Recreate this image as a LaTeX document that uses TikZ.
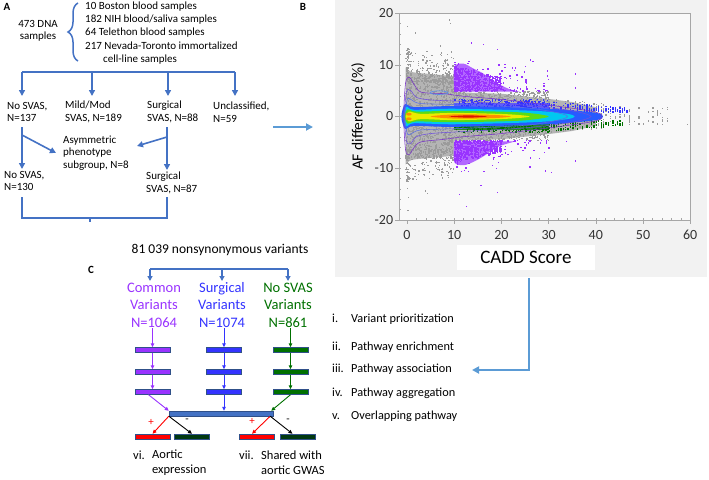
\documentclass[tikz,border=0pt]{standalone}
\usepackage{fontspec}
\setmainfont{Carlito}
\usetikzlibrary{arrows.meta,positioning,decorations.pathreplacing}
\definecolor{treeblue}{RGB}{68,114,196}
\definecolor{linkblue}{RGB}{91,155,213}
\definecolor{cpurple}{RGB}{153,51,255}
\definecolor{cblue}{RGB}{51,51,255}
\definecolor{cgreen}{RGB}{0,112,0}
\definecolor{dkgreen}{RGB}{0,56,16}
\definecolor{panelgray}{RGB}{242,242,242}
\definecolor{ptgray}{RGB}{155,155,155}
\definecolor{cloudgray}{RGB}{180,180,180}
\definecolor{hblue}{RGB}{40,90,255}
\definecolor{hcyan}{RGB}{0,200,240}
\definecolor{hgreen}{RGB}{90,220,20}
\definecolor{hyellow}{RGB}{235,235,0}
\definecolor{horange}{RGB}{255,140,0}
\definecolor{hred}{RGB}{220,20,0}
\tikzstyle{plabel}=[inner sep=0pt,font=\fontsize{11}{13}\selectfont\bfseries]
\tikzstyle{lbl}=[inner sep=0pt,align=left,font=\fontsize{11}{12.5}\selectfont]
\tikzstyle{clbl}=[inner sep=0pt,align=center,font=\fontsize{14.5}{17.5}\selectfont]
\tikzstyle{item}=[inner sep=0pt,anchor=west,font=\fontsize{12.3}{14}\selectfont]
\tikzstyle{tree}=[-{Triangle[length=6pt,width=6pt]},line width=1.6pt,draw=treeblue]
\tikzstyle{link}=[-{Triangle[length=7pt,width=7pt]},line width=1.8pt,draw=linkblue]
\tikzstyle{varrow}=[-{Triangle[length=4pt,width=3.5pt]},line width=0.9pt]
\tikzstyle{bar}=[draw=treeblue!70!black,line width=0.4pt,inner sep=0pt,minimum height=5pt,minimum width=35pt]
\tikzstyle{contour}=[line width=0.55pt]
% random point cloud: count, x expr, y expr, colour
\newcommand{\cloud}[4]{\foreach \k in {1,...,#1}{%
  \pgfmathsetmacro{\px}{#2}\pgfmathsetmacro{\py}{#3}%
  \fill[#4] (\px,\py) rectangle ++(0.28,0.27);}}

\begin{document}
\begin{tikzpicture}[x=1pt,y=-1pt]
\useasboundingbox (0,0) rectangle (709,479);
\pgfmathsetseed{4711}

% ---------- panel A
\node[plabel] (pa) at (7,7) {A};
\node[lbl,align=center] (dna) at (38,31) {473 DNA\\samples};
\draw[treeblue,line width=1.5pt,decorate,decoration={brace,amplitude=10pt}] (78,61) -- (78,3);
\node[lbl,anchor=west,font=\fontsize{11}{13.4}\selectfont] (src) at (85,33)
  {10 Boston blood samples\\182 NIH blood/saliva samples\\64 Telethon blood samples\\
   217 Nevada-Toronto immortalized\\\hspace{18pt}cell-line samples};

\coordinate (hl) at (22,72);
\coordinate (hr) at (235,72);
\draw[treeblue,line width=1.6pt] (hl) -- (hr);
\foreach \x in {22,92,168,235}
  \draw[tree] (\x,72) -- (\x,96);

\node[lbl,anchor=west] (c1) at (7,112) {No SVAS,\\N=137};
\node[lbl,anchor=west] (c2) at (65,112) {Mild/Mod\\SVAS, N=189};
\node[lbl,anchor=west] (c3) at (147,112) {Surgical\\SVAS, N=88};
\node[lbl,anchor=west] (c4) at (213,112) {Unclassified,\\N=59};
\node[lbl,anchor=west] (asym) at (63,153) {Asymmetric\\phenotype\\subgroup, N=8};
\node[lbl,anchor=west] (c5) at (4,181) {No SVAS,\\N=130};
\node[lbl,anchor=west] (c6) at (146,183) {Surgical\\SVAS, N=87};

\coordinate (s1) at (22,127);
\coordinate (s2) at (167,127);
\draw[tree] (s1) -- (22,169);
\draw[tree] (22,135) -- ([xshift=-7pt]asym.west);
\draw[tree] (s2) -- (167,170);
\draw[tree] (167,137) -- (137,146);
\draw[treeblue,line width=1.6pt] (22,197) -- (22,218) -- (167,218) -- (167,197);
\draw[treeblue,line width=1.6pt] (90,218) -- (90,222);

\coordinate (ab) at (273,127);
\draw[link] (ab) -- (313,127);

% ---------- panel B
\node[plabel] (pb) at (303,7) {B};
\fill[panelgray] (335,0) rectangle (707,277);
\begin{scope}[shift={(407pt,-116.5pt)},x=4.72pt,y=5.175pt]
  \draw[gray!70,fill=white!95!gray] (-1.69,-20) coordinate (fsw) rectangle (59.96,20) coordinate (fne);
  % ticks
  \foreach \v in {-20,-10,0,10,20}{
    \draw[gray!70] (-1.69,\v) -- (-2.55,\v);
    \node[anchor=east,inner sep=0pt,text=black!80,font=\fontsize{14}{16}\selectfont] at (-2.9,\v) {\v};}
  \foreach \v in {-18,-16,...,18}
    \draw[gray!70] (-1.69,\v) -- (-1.27,\v);
  \foreach \u in {0,10,...,60}{
    \draw[gray!70] (\u,-20) -- (\u,-20.8);
    \node[inner sep=0pt,text=black!80,font=\fontsize{14}{16}\selectfont] at (\u,-22.9) {\u};}
  \foreach \u in {2,4,...,58}
    \draw[gray!70] (\u,-20) -- (\u,-19.6);
  \node[rotate=90,inner sep=0pt,font=\fontsize{15.5}{18}\selectfont] (ylab) at (-10.4,0) {AF difference (\%)};
  \node[fill=white,minimum width=138pt,minimum height=25pt,inner sep=0pt,font=\fontsize{19}{22}\selectfont] (xlab) at (25.2,-27.3) {CADD Score};

  % grey cloud
  \fill[cloudgray] plot[smooth] coordinates {(-0.3,9.5) (1,8.6) (5,8.2) (10,7.8)} -- (10,4.7) -- (20,4.4) -- (30,3.4) -- (35,2.8) -- (40,1.8)
    -- (40,-1.8) -- (35,-2.8) -- (30,-3.4) -- (20,-4.4) -- (10,-4.7) -- plot[smooth] coordinates {(10,-7.6) (5,-8) (1,-8.4) (-0.3,-9.3)} -- cycle;
  \cloud{900}{-0.4+10.4*rnd}{8.3*rand}{ptgray}
  \cloud{350}{-0.4+10.4*rnd}{(2*(rnd>0.5)-1)*(6.5+6*rnd^2)}{ptgray}
  \cloud{80}{-0.3+0.6*rnd}{(2*(rnd>0.5)-1)*(7+6*rnd)}{ptgray}
  \cloud{500}{10+20*rnd}{(2*(rnd>0.5)-1)*(2.6+2.2*rnd)}{ptgray}
  \cloud{200}{30+0.5*int(24*rnd)}{(3.3-0.07*(\px-30))*rand}{ptgray}
  \cloud{70}{40+int(16*rnd)}{1.8*rand}{ptgray}
  \foreach \a/\b in {0/17.3,0.1/-18.3,0.2/-15.8,0/-14,1.6/16,8.8/18.5,9.1/17.8,7/13.5,3.8/-14.5,4.2/-15,59.3/-1.7,55/-0.5,53.5/0.5}
    \fill[ptgray] (\a,\b) rectangle ++(0.28,0.27);

  % purple: large differences
  \fill[cpurple!75!white] plot[smooth] coordinates {(10,4.8) (10,9.6) (12,10.2) (14,9.3) (16,8.4) (18,7.1) (20,6) (22,5.2) (24,4.8)} -- cycle;
  \fill[cpurple!75!white] plot[smooth] coordinates {(10,-4.8) (10,-8.8) (12,-9.4) (14,-8.8) (16,-7.8) (18,-6.6) (20,-5.6) (23,-4.8)} -- cycle;
  \cloud{500}{10+10*rnd^1.3}{4.8+(4.8-0.22*(\px-10))*rnd}{cpurple}
  \cloud{450}{10+10*rnd^1.3}{-4.8-(4.2-0.2*(\px-10))*rnd}{cpurple}
  \cloud{300}{10+20*rnd^2}{(2*(rnd>0.5)-1)*(4.8+6*rnd^2.5)}{cpurple}
  \foreach \a/\b in {16/13.8,13.5/14,19/12.8,26.5/10.5,35.6/8.1,35.5/5.4,33.6/-5,35.5/-8.7,30.5/-11,12.5/-17.5,19/-14.8,15.5/-13.5,11/-15.2}
    \fill[cpurple] (\a,\b) rectangle ++(0.3,0.3);

  % blue and green bands
  \fill[cblue!80!white] (10,0.9) rectangle (30,2.7);
  \cloud{300}{10+20*rnd}{0.8+2.4*rnd}{cblue}
  \cloud{160}{30+0.5*int(34*rnd)}{0.6+(2.2-0.08*(\px-30))*rnd}{cblue}
  \fill[cgreen!85!white] (10,-0.9) rectangle (30,-2.7);
  \cloud{300}{10+20*rnd}{-0.8-2.4*rnd}{cgreen}
  \cloud{150}{30+0.5*int(32*rnd)}{-0.9-(2.2-0.08*(\px-30))*rnd}{cgreen}

  % density core
  \fill[hblue] plot[smooth cycle] coordinates {(-1.2,0) (-0.4,2.4) (1.5,1.8) (10,2) (30,1.5) (40,0.7) (41.5,0) (40,-0.7) (30,-1.5) (10,-2) (1.5,-1.8) (-0.4,-2.4)};
  \fill[hcyan] plot[smooth cycle] coordinates {(-0.9,0) (-0.1,1.9) (1.5,1.3) (10,1.5) (27,1.1) (34,0.5) (35.5,0) (34,-0.5) (27,-1.1) (10,-1.5) (1.5,-1.3) (-0.1,-1.9)};
  \fill[hgreen] plot[smooth cycle] coordinates {(-0.6,0) (0.2,1.4) (2,0.95) (10,1.1) (24,0.8) (30,0) (24,-0.8) (10,-1.1) (2,-0.95) (0.2,-1.4)};
  \fill[hyellow] plot[smooth cycle] coordinates {(-0.3,0) (0.4,0.95) (3,0.5) (10,0.7) (21,0.45) (26,0) (21,-0.45) (10,-0.7) (3,-0.5) (0.4,-0.95)};
  \fill[horange] plot[smooth cycle] coordinates {(5,0) (10,0.4) (18,0.32) (22,0) (18,-0.32) (10,-0.4)};
  \fill[horange] (0.4,0.45) ellipse (0.6 and 0.28);
  \fill[horange] (0.4,-0.45) ellipse (0.6 and 0.28);
  \fill[hred] plot[smooth cycle] coordinates {(9,0) (13,0.22) (17,0) (13,-0.22)};

  % contours
  \draw[contour,draw={rgb,255:red,120;green,50;blue,200}] plot[smooth cycle] coordinates {(-0.7,0) (-0.3,6.5) (0.5,7.6) (1.5,6.2) (3,4.7) (8,4.4) (12,3.9) (20,3.3) (30,2.2) (38,1.2) (41,0.5) (41,-0.5) (38,-1.2) (30,-2.2) (20,-3.3) (12,-3.9) (8,-4.4) (3,-4.9) (1.5,-6) (0.5,-7.3) (-0.3,-6.5)};
  \draw[contour,draw={rgb,255:red,110;green,80;blue,220}] plot[smooth cycle] coordinates {(-0.55,0) (-0.1,4.8) (0.8,5) (2,3.7) (5,3.2) (12,2.9) (25,2.2) (35,1.1) (39,0) (35,-1.1) (25,-2.2) (12,-2.9) (5,-3.3) (2,-3.9) (0.8,-5.2) (-0.1,-4.8)};
  \draw[contour,draw={rgb,255:red,90;green,110;blue,230}] plot[smooth cycle] coordinates {(-0.45,0) (0.1,3.4) (1,3.2) (3,2.5) (12,2.3) (25,1.7) (32,0.7) (34,0) (32,-0.7) (25,-1.7) (12,-2.3) (3,-2.6) (1,-3.3) (0.1,-3.4)};
  \draw[contour,draw={rgb,255:red,80;green,140;blue,240}] (6.8,4.6) ellipse (1.9 and 0.35);
\end{scope}
\coordinate (bb) at (529,278);
\coordinate (bc) at (529,370);
\draw[link] (bb) -- (bc) -- (472,370);

% ---------- list of analyses
\node[item] (l1) at (332,319) {\makebox[19pt][l]{i.}Variant prioritization};
\node[item] (l2) at (332,347) {\makebox[19pt][l]{ii.}Pathway enrichment};
\node[item] (l3) at (332,369) {\makebox[19pt][l]{iii.}Pathway association};
\node[item] (l4) at (332,393) {\makebox[19pt][l]{iv.}Pathway aggregation};
\node[item] (l5) at (332,416) {\makebox[19pt][l]{v.}Overlapping pathway};

% ---------- panel C
\node[plabel] (pc) at (91,270) {C};
\node[inner sep=0pt,font=\fontsize{13.5}{15}\selectfont] (tot) at (220,250) {81 039 nonsynonymous variants};
\draw[treeblue,line width=1.3pt] (150,269) -- (288,269);
\foreach \x in {150,222,288}
  \draw[-{Triangle[length=5pt,width=5pt]},line width=1.3pt,draw=treeblue] (\x,269) -- (\x,281);
\node[clbl,text=cpurple] (cv1) at (154,305) {Common\\Variants\\N=1064};
\node[clbl,text=cblue] (cv2) at (222,305) {Surgical\\Variants\\N=1074};
\node[clbl,text=cgreen] (cv3) at (288,305) {No SVAS\\Variants\\N=861};

\foreach \c/\x/\col in {p/152.5/cpurple,b/224/cblue,g/290.5/cgreen}{
  \coordinate (\c0) at (\x,328);
  \node[bar,fill=\col] (\c1) at (\x,350) {};
  \node[bar,fill=\col] (\c2) at (\x,372) {};
  \node[bar,fill=\col] (\c3) at (\x,392) {};
  \draw[varrow,draw=\col] (\c0) -- (\c1.north);
  \draw[varrow,draw=\col] (\c1.south) -- (\c2.north);
  \draw[varrow,draw=\col] (\c2.south) -- (\c3.north);
}
\node[bar,fill=treeblue,minimum width=104pt] (merge) at (221,413.5) {};
\draw[varrow,draw=cpurple] ([xshift=-4pt]p3.south) -- (merge.north west);
\draw[varrow,draw=cblue] (b3.south) -- (b3.south |- merge.north);
\draw[varrow,draw=cgreen] (g3.south) -- ([xshift=-2pt]merge.north east);

\node[bar,fill=red] (r1) at (152.5,436.5) {};
\node[bar,fill=dkgreen] (k1) at (192,436.5) {};
\node[bar,fill=red] (r2) at (257,436.5) {};
\node[bar,fill=dkgreen] (k2) at (297.5,436.5) {};
\draw[varrow,draw=red] (merge.south west) -- (r1.north);
\draw[varrow,draw=black] (merge.south west) -- (k1.north);
\draw[varrow,draw=red] ([xshift=-3pt]merge.south east) -- ([xshift=-5pt]r2.north);
\draw[varrow,draw=black] ([xshift=-3pt]merge.south east) -- ([xshift=-5pt]k2.north);
\node[inner sep=0pt,text=red,font=\fontsize{11}{13}\selectfont] (pl1) at (151,422) {+};
\node[inner sep=0pt,font=\fontsize{11}{13}\selectfont] (mi1) at (187,421) {-};
\node[inner sep=0pt,text=red,font=\fontsize{11}{13}\selectfont] (pl2) at (252,421) {+};
\node[inner sep=0pt,font=\fontsize{11}{13}\selectfont] (mi2) at (288,421) {-};

\node[lbl,anchor=west,font=\fontsize{12.5}{15}\selectfont] (vi) at (133,455) {vi.};
\node[lbl,anchor=west,font=\fontsize{12.5}{15}\selectfont] (vit) at (152,462.5) {Aortic\\expression};
\node[lbl,anchor=west,font=\fontsize{12.5}{15}\selectfont] (vii) at (239,455) {vii.};
\node[lbl,anchor=west,font=\fontsize{12.5}{15}\selectfont] (viit) at (261,462.5) {Shared with\\aortic GWAS};
\end{tikzpicture}
\end{document}
